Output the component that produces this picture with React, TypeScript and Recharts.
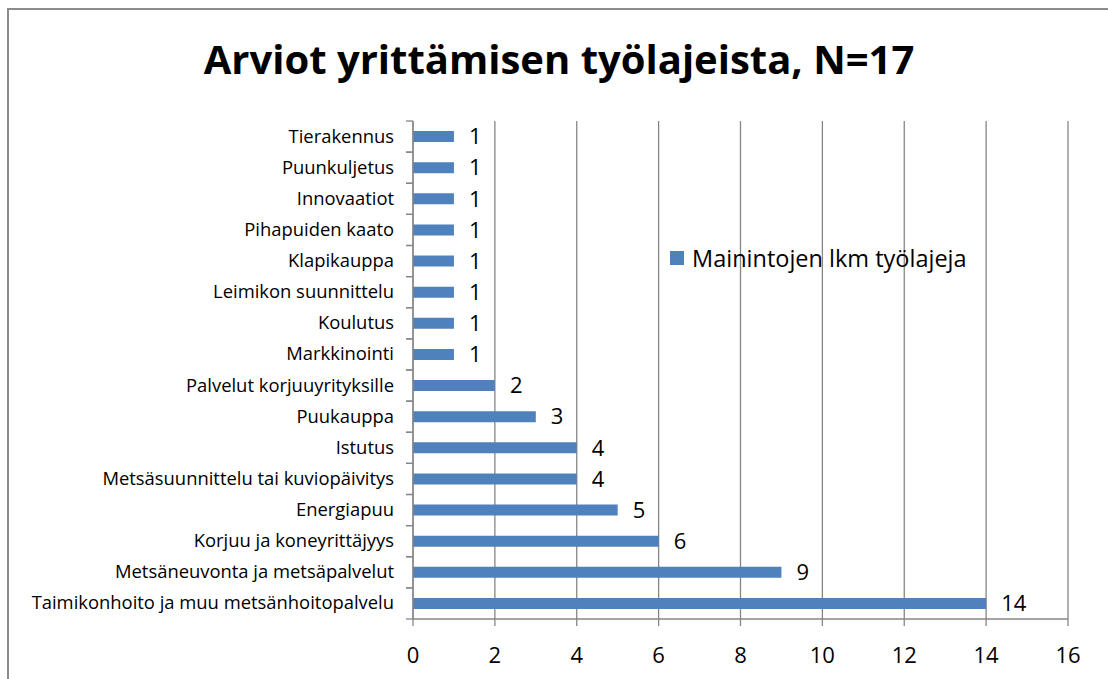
import React from "react";
import {
  BarChart,
  Bar,
  XAxis,
  YAxis,
  CartesianGrid,
  LabelList,
} from "recharts";

const categories = [
  "Tierakennus",
  "Puunkuljetus",
  "Innovaatiot",
  "Pihapuiden kaato",
  "Klapikauppa",
  "Leimikon suunnittelu",
  "Koulutus",
  "Markkinointi",
  "Palvelut korjuuyrityksille",
  "Puukauppa",
  "Istutus",
  "Metsäsuunnittelu tai kuviopäivitys",
  "Energiapuu",
  "Korjuu ja koneyrittäjyys",
  "Metsäneuvonta ja metsäpalvelut",
  "Taimikonhoito ja muu metsänhoitopalvelu",
];
const values = [1, 1, 1, 1, 1, 1, 1, 1, 2, 3, 4, 4, 5, 6, 9, 14];
const xTicks = [0, 2, 4, 6, 8, 10, 12, 14, 16];
const seriesName = "Mainintojen lkm työlajeja";
const title = "Arviot yrittämisen työlajeista, N=17";

const data = categories.map((c, i) => ({ name: c, value: values[i] }));

const FONT = "'Open Sans', sans-serif";
const BAR_COLOR = "#4F81BD";
const BAND = 498 / categories.length;

const CategoryTick = (props: any) => {
  const { x, y, payload } = props;
  return (
    <g>
      <line x1={x - 7} x2={x} y1={y - BAND / 2} y2={y - BAND / 2} stroke="#868686" strokeWidth={1.3} />
      <line x1={x - 7} x2={x} y1={y + BAND / 2} y2={y + BAND / 2} stroke="#868686" strokeWidth={1.3} />
      <text
        x={x - 19}
        y={y}
        dy={6}
        textAnchor="end"
        fontSize={18.4}
        fontFamily={FONT}
        fill="#000"
      >
        {payload.value}
      </text>
    </g>
  );
};

export default function App() {
  return (
    <div
      style={{
        position: "absolute",
        left: 0,
        top: 0,
        width: 1108,
        height: 679,
        overflow: "hidden",
        background: "#fff",
      }}
    >
      <div
        style={{
          position: "absolute",
          left: 7,
          top: 8,
          width: 1300,
          height: 900,
          border: "2px solid #8c8c8c",
        }}
      />
      <div
        style={{
          position: "absolute",
          left: 0,
          top: 31,
          width: 1118,
          textAlign: "center",
          fontFamily: FONT,
          fontWeight: 700,
          fontSize: 40,
          lineHeight: "56px",
          color: "#000",
        }}
      >
        {title}
      </div>
      <div style={{ position: "absolute", left: 0, top: 0 }}>
        <BarChart
          width={1108}
          height={679}
          data={data}
          layout="vertical"
          margin={{ top: 121, right: 40, bottom: 0, left: 0 }}
          barCategoryGap={10}
        >
          <CartesianGrid horizontal={false} vertical={true} stroke="#868686" strokeWidth={1.3} />
          <XAxis
            type="number"
            domain={[0, 16]}
            ticks={xTicks}
            interval={0}
            height={60}
            stroke="#868686"
            strokeWidth={1.3}
            tickSize={7}
            tickMargin={21}
            tick={{ fontSize: 22, fontFamily: FONT, fill: "#000" }}
          />
          <YAxis
            type="category"
            dataKey="name"
            width={413}
            stroke="#868686"
            strokeWidth={1.3}
            tickLine={false}
            tickSize={0}
            tickMargin={0}
            interval={0}
            tick={<CategoryTick />}
          />
          <Bar
            dataKey="value"
            name={seriesName}
            fill={BAR_COLOR}
            isAnimationActive={false}
          >
            <LabelList
              dataKey="value"
              position="right"
              offset={15}
              style={{ fontSize: 22, fontFamily: FONT, fill: "#000" }}
            />
          </Bar>
        </BarChart>
      </div>
      <div
        style={{
          position: "absolute",
          left: 670,
          top: 243,
          height: 30,
          display: "flex",
          alignItems: "center",
          fontFamily: FONT,
          fontSize: 23.5,
          color: "#000",
          whiteSpace: "nowrap",
        }}
      >
        <span
          style={{
            display: "inline-block",
            width: 14,
            height: 14,
            background: BAR_COLOR,
            marginRight: 8,
          }}
        />
        <span>{seriesName}</span>
      </div>
    </div>
  );
}
